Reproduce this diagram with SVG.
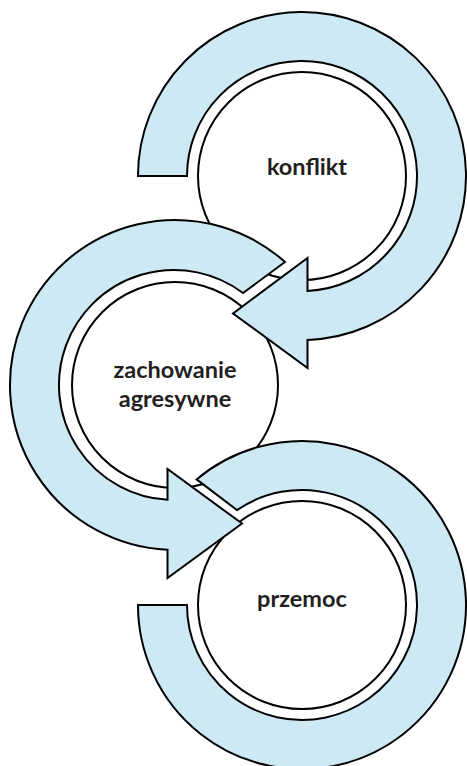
<svg xmlns="http://www.w3.org/2000/svg" width="467" height="766" viewBox="0 0 467 766">
  <style>
    .core { fill: #ffffff; stroke: #000000; stroke-width: 2; }
    .band { fill: #cce9f4; stroke: #000000; stroke-width: 2; stroke-linejoin: miter; }
    .label { font-family: Lato, "Open Sans", "Liberation Sans", sans-serif; font-weight: bold; font-size: 23.5px; fill: #231f20; text-anchor: middle; }
  </style>
  <rect width="467" height="766" fill="#ffffff"/>

  <!-- node cores -->
  <g id="node-konflikt">
    <circle class="core" cx="302" cy="176" r="104"/>
  </g>
  <g id="node-zachowanie">
    <circle class="core" cx="175" cy="385" r="103"/>
  </g>
  <g id="node-przemoc">
    <circle class="core" cx="302" cy="605" r="104"/>
  </g>

  <!-- cycle arrows wrapping each node -->
  <g id="connectors">
    <path id="arrow-konflikt" class="band" d="M138,176 A164,164 0 1 1 307.5,339.9 L307.5,368 L233,313.5 L307.5,258 L307.5,290.9 A115,115 0 1 0 187,176 Z"/>
    <path id="arrow-zachowanie" class="band" d="M285,262 A165,165 0 1 0 167.5,549.8 L167.5,578 L242,523.5 L167.5,469 L167.5,499.8 A115,115 0 1 1 243,293 Z"/>
    <path id="band-przemoc" class="band" d="M138,605 A164,164 0 1 0 196.6,479.4 L237,510.1 A115,115 0 1 1 187,605 Z"/>
  </g>

  <!-- labels -->
  <g id="labels">
    <text class="label" x="307" y="175">konflikt</text>
    <text class="label" x="175" y="378">zachowanie</text>
    <text class="label" x="175" y="407">agresywne</text>
    <text class="label" x="302" y="607">przemoc</text>
  </g>
</svg>
